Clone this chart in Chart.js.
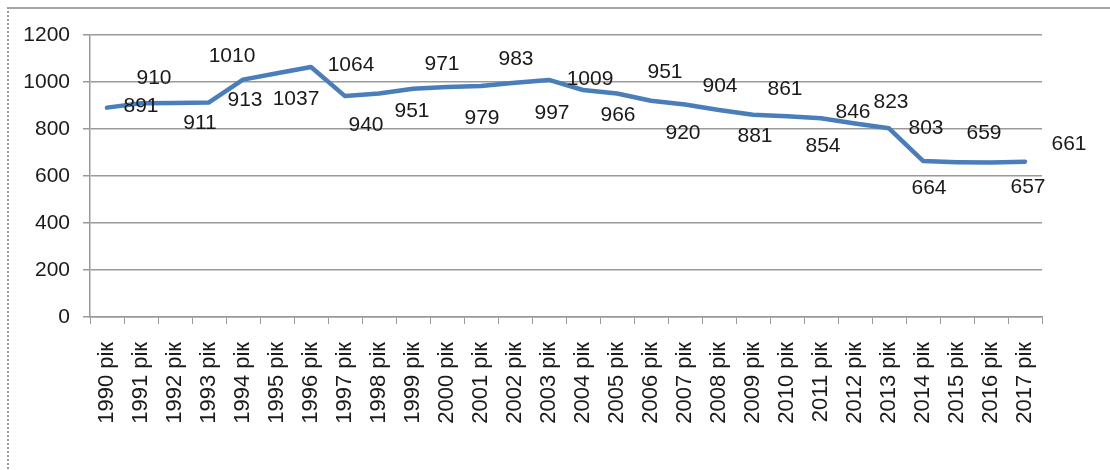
<!DOCTYPE html>
<html lang="uk">

<head>
    <meta charset="UTF-8">
    <script src="https://cdn.jsdelivr.net/npm/chart.js"></script>
    <title>Chart</title>
    <style>
        html, body { margin: 0; padding: 0; background: #fff; }
        .frame {
            position: absolute;
            left: 7px;
            top: 7px;
            width: 1110px;
            height: 480px;
            border-top: 2px solid #a6a6a6;
            border-left: 2px dotted #9a9a9a;
        }
        canvas { position: absolute; left: 0; top: 0; }
    </style>
</head>

<body>
    <div class="frame"></div>
    <canvas id="myChart" width="1110" height="470"></canvas>

<script>
    // dados
    const anos = ['1990 рік', '1991 рік', '1992 рік', '1993 рік', '1994 рік', '1995 рік', '1996 рік',
        '1997 рік', '1998 рік', '1999 рік', '2000 рік', '2001 рік', '2002 рік', '2003 рік',
        '2004 рік', '2005 рік', '2006 рік', '2007 рік', '2008 рік', '2009 рік', '2010 рік',
        '2011 рік', '2012 рік', '2013 рік', '2014 рік', '2015 рік', '2016 рік', '2017 рік'];
    const valores = [891, 910, 911, 913, 1010, 1037, 1064, 940, 951, 971, 979, 983, 997, 1009,
        966, 951, 920, 904, 881, 861, 854, 846, 823, 803, 664, 659, 657, 661];
    const eixoY = [0, 200, 400, 600, 800, 1000, 1200];

    // deslocamento dos rótulos em relação ao ponto (px)
    const deslocRotulos = [
        [34, -1], [13, -25], [25, 20], [36, -2], [-11, -23], [19, 26], [40, -2],
        [21, 29], [33, 18], [29, -25], [35, 31], [35, -27], [37, 30], [41, -1],
        [35, 25], [48, -21], [32, 32], [35, -18], [36, 26], [32, -25], [36, 30],
        [32, -6], [36, -21], [37, 0], [6, 27], [27, -29], [37, 25], [44, -17]
    ];

    const fonte = "'Liberation Sans', Arial, sans-serif";
    const corTexto = '#1a1a1a';
    const corGrade = '#9a9a9a';

    // plugin simples para escrever os valores
    const rotulos = {
        id: 'rotulos',
        afterDatasetsDraw(chart) {
            const ctx = chart.ctx;
            const meta = chart.getDatasetMeta(0);
            ctx.save();
            ctx.font = '21px ' + fonte;
            ctx.fillStyle = corTexto;
            ctx.textAlign = 'center';
            ctx.textBaseline = 'middle';
            meta.data.forEach((p, i) => {
                const d = deslocRotulos[i];
                ctx.fillText(valores[i], p.x + d[0], p.y + d[1]);
            });
            ctx.restore();
        }
    };

    const config = {
        type: 'line',
        data: {
            labels: anos,
            datasets: [{
                data: valores,
                borderColor: '#4a7ebb',
                backgroundColor: '#4a7ebb',
                borderWidth: 4.5,
                pointRadius: 0,
                tension: 0,
                borderJoinStyle: 'round',
                borderCapStyle: 'round',
                fill: false
            }]
        },
        options: {
            responsive: false,
            animation: false,
            devicePixelRatio: 1,
            layout: { padding: { left: 0, right: 68, top: 35, bottom: 0 } },
            plugins: {
                legend: { display: false },
                tooltip: { enabled: false }
            },
            scales: {
                x: {
                    offset: true,
                    grid: {
                        offset: true,
                        drawOnChartArea: false,
                        drawTicks: true,
                        tickLength: 7,
                        color: corGrade
                    },
                    border: { color: corGrade, width: 1.5 },
                    ticks: {
                        autoSkip: false,
                        maxRotation: 90,
                        minRotation: 90,
                        padding: 18,
                        color: corTexto,
                        font: { family: fonte, size: 22 }
                    },
                    afterFit(scale) { scale.height = 153; }
                },
                y: {
                    min: 0,
                    max: 1200,
                    afterBuildTicks(scale) {
                        scale.ticks = eixoY.map(v => ({ value: v }));
                    },
                    grid: {
                        color: corGrade,
                        lineWidth: 1.5,
                        tickLength: 7
                    },
                    border: { color: corGrade, width: 1.5 },
                    ticks: {
                        padding: 13,
                        color: corTexto,
                        font: { family: fonte, size: 21 },
                        callback: (v) => String(v)
                    },
                    afterFit(scale) { scale.width = 90; }
                }
            }
        },
        plugins: [rotulos]
    };

    let myChart = new Chart(document.getElementById('myChart'), config);
</script>
</body>

</html>
